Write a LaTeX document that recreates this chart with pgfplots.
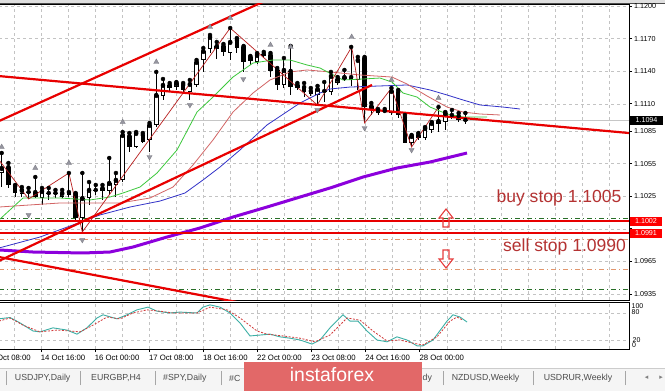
\documentclass[border=0pt]{standalone}
\usepackage{pgfplots}
\pgfplotsset{compat=1.18}
\usepackage{pgfplotstable}
\usepackage{fontspec}
\setmainfont{Liberation Sans}
\newfontfamily\djv{DejaVu Sans}
\definecolor{lips}{RGB}{60,200,60}
\definecolor{teeth}{RGB}{210,100,100}
\definecolor{jaw}{RGB}{50,50,200}
\definecolor{zz}{RGB}{185,30,30}
\definecolor{mapurple}{RGB}{140,0,220}
\definecolor{tl}{RGB}{232,0,0}
\definecolor{gridc}{RGB}{195,195,195}
\definecolor{orng}{RGB}{225,150,110}
\definecolor{dgreen}{RGB}{40,110,40}
\definecolor{stoteal}{RGB}{60,175,165}
\definecolor{stored}{RGB}{210,60,60}
\definecolor{txtred}{RGB}{180,50,50}
\definecolor{logored}{RGB}{226,104,104}
\definecolor{fract}{RGB}{150,150,160}
\definecolor{arrred}{RGB}{230,60,60}

\pgfplotstableread{
i o h l c
0 1.10463 1.10647 1.10334 1.10509
3 1.10270 1.10334 1.10242 1.10307
6 1.10233 1.10325 1.10169 1.10297
9 1.10242 1.10307 1.10233 1.10279
12 1.10049 1.10463 1.09920 1.10233
13 1.10233 1.10380 1.10169 1.10307
16 1.10297 1.10601 1.10261 1.10371
17 1.10353 1.10463 1.10242 1.10399
18 1.10399 1.10840 1.10380 1.10813
20 1.10702 1.10840 1.10693 1.10831
22 1.10767 1.10923 1.10656 1.10905
23 1.10905 1.11393 1.10886 1.11181
24 1.11172 1.11328 1.11135 1.11273
26 1.11254 1.11300 1.11227 1.11291
28 1.11208 1.11319 1.11135 1.11282
29 1.11273 1.11503 1.11254 1.11485
30 1.11503 1.11613 1.11393 1.11586
31 1.11604 1.11733 1.11567 1.11715
34 1.11567 1.11797 1.11503 1.11669
38 1.11485 1.11567 1.11466 1.11549
42 1.11273 1.11521 1.11245 1.11411
44 1.11245 1.11291 1.11227 1.11273
47 1.11181 1.11264 1.11089 1.11236
49 1.11208 1.11393 1.11181 1.11356
50 1.11291 1.11346 1.11273 1.11328
51 1.11328 1.11411 1.11310 1.11346
53 1.11319 1.11531 1.11227 1.11503
58 1.11015 1.11245 1.10997 1.11218
61 1.10739 1.10813 1.10702 1.10804
63 1.10785 1.10886 1.10767 1.10877
64 1.10859 1.10932 1.10831 1.10923
65 1.10914 1.11070 1.10840 1.10942
66 1.10932 1.11024 1.10859 1.11015
}\bull

\pgfplotstableread{
i o h l c
1 1.10518 1.10555 1.10325 1.10353
2 1.10343 1.10353 1.10242 1.10279
4 1.10288 1.10325 1.10224 1.10288
5 1.10288 1.10426 1.10233 1.10242
7 1.10279 1.10325 1.10215 1.10279
8 1.10279 1.10307 1.10233 1.10279
10 1.10288 1.10463 1.10242 1.10261
11 1.10270 1.10279 1.10031 1.10049
14 1.10307 1.10353 1.10261 1.10307
15 1.10325 1.10353 1.10215 1.10297
19 1.10804 1.10831 1.10656 1.10702
21 1.10813 1.10831 1.10739 1.10748
25 1.11273 1.11291 1.11208 1.11245
27 1.11273 1.11291 1.11208 1.11227
32 1.11632 1.11669 1.11512 1.11604
33 1.11632 1.11650 1.11540 1.11577
35 1.11687 1.11705 1.11567 1.11613
36 1.11623 1.11632 1.11393 1.11485
37 1.11531 1.11540 1.11457 1.11494
39 1.11558 1.11577 1.11521 1.11540
40 1.11549 1.11567 1.11346 1.11402
41 1.11411 1.11429 1.11227 1.11273
43 1.11402 1.11632 1.11181 1.11254
45 1.11254 1.11291 1.11162 1.11208
46 1.11218 1.11245 1.11172 1.11190
48 1.11218 1.11300 1.11116 1.11208
52 1.11346 1.11623 1.11264 1.11319
54 1.11521 1.11531 1.10923 1.11070
55 1.11080 1.11107 1.10997 1.11043
56 1.11034 1.11052 1.10997 1.11015
57 1.11034 1.11052 1.11015 1.11034
59 1.11208 1.11227 1.10969 1.10997
60 1.10978 1.10997 1.10739 1.10739
62 1.10813 1.10831 1.10767 1.10785
67 1.10997 1.11043 1.10960 1.10997
68 1.10988 1.11015 1.10932 1.10951
69 1.10951 1.11015 1.10914 1.10942
}\bear

\begin{document}
\begin{tikzpicture}[x=1bp,y=1bp]
\fill[white] (0,0) rectangle (665,391);
\fill[gray!25] (0,388) rectangle (665,391);
\draw[gray!60!black, line width=1bp] (0,387.5) -- (665,387.5);

\begin{axis}[at={(-1bp,91bp)}, anchor=south west, width=630bp, height=296bp, scale only axis,
  xmin=-1, xmax=629, ymin=1.092944, ymax=1.120182,
  axis line style={black, line width=0.8bp},
  xtick={14,41.05,...,610}, xticklabels={}, xtick style={draw=none},
  ytick={1.0935,1.0965,1.0995,1.1025,1.1055,1.1085,1.1110,1.1140,1.1170,1.1200},
  yticklabels={1.0935,1.0965,,1.1025,1.1055,1.1085,1.1110,1.1140,1.1170,1.1200},
  ytick pos=right, yticklabel pos=right,
  ytick style={black, line width=0.6bp}, tick align=outside, major tick length=3bp,
  yticklabel style={font=\fontsize{7.2}{8}\selectfont, anchor=west, inner sep=0pt, xshift=2bp},
  grid=major, grid style={line width=0.5bp, color=gridc, dash pattern=on 3bp off 3bp},
]
% dash-dot levels
\addplot[dgreen, line width=0.9bp, dash pattern=on 5bp off 3bp on 1bp off 3bp] coordinates {(-1,1.10042) (629,1.10042)};
\addplot[orng, line width=0.9bp, dash pattern=on 5bp off 3bp on 1bp off 3bp] coordinates {(-1,1.09856) (629,1.09856)};
\addplot[orng, line width=0.9bp, dash pattern=on 5bp off 3bp on 1bp off 3bp] coordinates {(-1,1.09580) (629,1.09580)};
\addplot[dgreen, line width=0.9bp, dash pattern=on 5bp off 3bp on 1bp off 3bp] coordinates {(-1,1.09396) (629,1.09396)};
% current price line
\addplot[gray!45, line width=0.9bp] coordinates {(-1,1.10948) (629,1.10948)};

% candles: wicks
\addplot[only marks, mark=none, forget plot, error bars/.cd, y dir=minus, y explicit, error mark=none,
  error bar style={black, line width=0.9bp}]
  table[x expr=1.7+6.72*\thisrow{i}, y=h, y error minus expr=\thisrow{h}-\thisrow{l}] {\bull};
\addplot[only marks, mark=none, forget plot, error bars/.cd, y dir=minus, y explicit, error mark=none,
  error bar style={black, line width=0.9bp}]
  table[x expr=1.7+6.72*\thisrow{i}, y=h, y error minus expr=\thisrow{h}-\thisrow{l}] {\bear};
% bodies
\addplot[only marks, mark=none, forget plot, error bars/.cd, y dir=minus, y explicit, error mark=none,
  error bar style={black, line width=4.6bp}]
  table[x expr=1.7+6.72*\thisrow{i}, y=c, y error minus expr=\thisrow{c}-\thisrow{o}] {\bull};
\addplot[only marks, mark=none, forget plot, error bars/.cd, y dir=minus, y explicit, error mark=none,
  error bar style={white, line width=2.8bp}]
  table[x expr=1.7+6.72*\thisrow{i}, y expr=\thisrow{c}-0.00008, y error minus expr={max(\thisrow{c}-\thisrow{o}-0.00016,0)}] {\bull};
\addplot[only marks, mark=none, forget plot, error bars/.cd, y dir=minus, y explicit, error mark=none,
  error bar style={black, line width=4.6bp}]
  table[x expr=1.7+6.72*\thisrow{i}, y=o, y error minus expr={max(\thisrow{o}-\thisrow{c},0.00009)}] {\bear};

% moving average 200 (purple)
\addplot[mapurple, line width=3bp] coordinates {(-1,1.09755) (33,1.09736) (83,1.09727) (110,1.09736) (133,1.09782) (167,1.09874) (200,1.09957) (233,1.10058) (267,1.10150) (300,1.10242) (330,1.10325) (363,1.10426) (397,1.10509) (430,1.10564) (467,1.10647)};
% jaw
\addplot[jaw, line width=0.8bp] coordinates {(-1,1.09773) (40,1.09874) (70,1.09975) (100,1.10077) (130,1.10150) (160,1.10205) (185,1.10279) (203,1.10399) (220,1.10518) (240,1.10675) (267,1.10905) (300,1.11107) (320,1.11199) (330,1.11236) (350,1.11254) (380,1.11264) (407,1.11273) (430,1.11227) (447,1.11181) (463,1.11135) (480,1.11089) (503,1.11070) (520,1.11052)};
% teeth
\addplot[teeth, line width=0.8bp] coordinates {(-1,1.10150) (30,1.10169) (60,1.10187) (90,1.10187) (120,1.10187) (150,1.10233) (173,1.10334) (193,1.10537) (213,1.10767) (233,1.11024) (253,1.11199) (270,1.11319) (290,1.11393) (307,1.11411) (330,1.11393) (360,1.11365) (392,1.11346) (407,1.11282) (427,1.11172) (447,1.11070) (463,1.11024) (480,1.11006) (500,1.10997)};
% lips
\addplot[lips, line width=0.8bp] coordinates {(-1,1.10031) (23,1.10233) (60,1.10233) (90,1.10215) (110,1.10242) (123,1.10279) (140,1.10334) (157,1.10463) (177,1.10675) (197,1.11024) (213,1.11162) (233,1.11346) (253,1.11475) (273,1.11503) (290,1.11503) (307,1.11457) (320,1.11429) (343,1.11319) (363,1.11328) (380,1.11337) (392,1.11300) (403,1.11199) (417,1.11162) (430,1.11070) (447,1.11006) (463,1.10978) (487,1.10978)};
% zigzag
\addplot[zz, line width=0.7bp] coordinates {(-1,1.10583) (28.6,1.10224) (68.9,1.10463) (82.3,1.09920) (230.2,1.11797) (317.3,1.11089) (351.7,1.11623) (364.6,1.10923) (391.5,1.11245) (411.6,1.10702) (438.5,1.11070)};

% trend lines
\addplot[tl, line width=2.2bp] coordinates {(-1,1.10941) (290,1.12150)};
\addplot[tl, line width=2.2bp] coordinates {(-1,1.09654) (372,1.11273)};
\addplot[tl, line width=2.2bp] coordinates {(-1,1.11355) (629,1.10831)};
\addplot[tl, line width=2.2bp] coordinates {(-1,1.09690) (240,1.09270)};
\addplot[tl, line width=2.6bp] coordinates {(-1,1.10020) (629,1.10020)};
\addplot[tl, line width=2.6bp] coordinates {(-1,1.09910) (629,1.09910)};

% fractals
\addplot[only marks, mark=triangle*, mark size=3bp, mark options={fill=fract, draw=fract!80!black, line width=0.3bp}] coordinates {(1.7,1.10702) (35.3,1.10509) (68.9,1.10555) (122.7,1.10932) (156.3,1.11485) (210,1.11807) (230.2,1.11889) (270.5,1.11641) (290.7,1.11623) (351.7,1.11715) (391.5,1.11319) (438.5,1.11153)};
\addplot[only marks, mark=triangle*, mark size=3bp, mark options={rotate=180, fill=fract, draw=fract!80!black, line width=0.3bp}] coordinates {(28.6,1.10077) (82.3,1.09847) (149.5,1.10610) (189.9,1.11089) (243.3,1.11328) (317.3,1.11043) (364.6,1.10877) (411.6,1.10675)};
\end{axis}

% stochastic panel
\begin{axis}[at={(-1bp,42bp)}, anchor=south west, width=630bp, height=47bp, scale only axis,
  xmin=-1, xmax=629, ymin=0, ymax=104.4,
  axis line style={black, line width=0.8bp},
  xtick={41.05,95.15,149.25,203.35,257.45,311.55,365.65,419.75},
  xticklabels={},
  minor xtick={14,68.1,122.2,176.3,230.4,284.5,338.6,392.7,446.8,500.9,555,609.1},
  xtick pos=bottom, tick align=outside, major tick length=3bp, minor tick length=0pt,
  xtick style={black, line width=0.6bp},
  ytick={20,80}, yticklabels={}, ytick style={draw=none},
  grid=both, grid style={line width=0.5bp, color=gridc, dash pattern=on 3bp off 3bp},
  minor grid style={line width=0.5bp, color=gridc, dash pattern=on 3bp off 3bp},
]
\addplot[stoteal, line width=0.9bp] coordinates {(-1,67) (10,70) (20,58) (33,40) (40,38) (53,47) (67,42) (77,33) (87,47) (97,69) (103,76) (117,67) (127,76) (137,87) (148,93) (157,84) (170,80) (180,82) (197,80) (203,93) (210,98) (220,93) (230,80) (240,58) (250,29) (260,31) (270,33) (280,27) (290,24) (300,20) (312,11) (320,20) (330,47) (343,76) (350,62) (358,62) (367,40) (377,20) (387,16) (397,27) (407,20) (417,7) (423,7) (433,20) (447,62) (453,76) (460,71) (467,60)};
\addplot[stored, line width=0.8bp, dash pattern=on 2bp off 1.5bp] coordinates {(-1,62) (10,69) (23,53) (40,38) (57,42) (70,40) (80,38) (93,53) (107,71) (120,67) (133,80) (147,87) (160,84) (173,80) (197,80) (210,93) (227,87) (240,69) (257,40) (267,33) (283,29) (300,24) (315,16) (330,31) (347,69) (360,64) (373,40) (387,18) (400,20) (413,13) (423,9) (437,27) (450,62) (457,71) (463,64)};
\end{axis}

% time labels
\begin{scope}[every node/.style={anchor=west, font=\fontsize{7.8}{9}\selectfont, inner sep=0pt}]
\node at (-13.9,33) {13 Oct 08:00};
\node at (40.6,33) {14 Oct 16:00};
\node at (94.7,33) {16 Oct 00:00};
\node at (148.8,33) {17 Oct 08:00};
\node at (202.9,33) {18 Oct 16:00};
\node at (257,33) {22 Oct 00:00};
\node at (311.1,33) {23 Oct 08:00};
\node at (365.2,33) {24 Oct 16:00};
\node at (419.3,33) {28 Oct 00:00};
\end{scope}

% texts in main panel
\node[text=txtred, font=\fontsize{17.6}{20}\selectfont, inner sep=0pt] at (559,193) {buy stop 1.1005};
\node[text=txtred, font=\fontsize{17.6}{20}\selectfont, inner sep=0pt] at (564.5,144) {sell stop 1.0990};
% hollow arrows (chart objects)
\draw[arrred, line width=1.1bp, line join=miter] (443,164) -- (443,173) -- (439,173) -- (446,182) -- (453,173) -- (449,173) -- (449,164) -- cycle;
\draw[arrred, line width=1.1bp, line join=miter] (443,141) -- (443,132) -- (439,132) -- (446,123) -- (453,132) -- (449,132) -- (449,141) -- cycle;

% price boxes
\node[fill=black, text=white, font=\fontsize{7.2}{8}\selectfont, inner sep=0pt, minimum width=33bp, minimum height=9.5bp] at (646.5,270.5) {1.1094};
\node[fill=red, text=white, font=\fontsize{7.2}{8}\selectfont, inner sep=0pt, minimum width=32bp, minimum height=9bp] at (646,169.5) {1.1002};
\node[fill=red, text=white, font=\fontsize{7.2}{8}\selectfont, inner sep=0pt, minimum width=32bp, minimum height=9bp] at (646,158) {1.0991};

% stochastic labels
\node[anchor=west, font=\fontsize{7}{8}\selectfont, inner sep=0pt] at (631.5,84.5) {100};
\node[anchor=west, font=\fontsize{7}{8}\selectfont, inner sep=0pt] at (631.5,78.5) {80};
\node[anchor=west, font=\fontsize{7}{8}\selectfont, inner sep=0pt] at (632.5,51) {20};
\node[anchor=west, font=\fontsize{7}{8}\selectfont, inner sep=0pt] at (632,46) {0};

% tab bar
\fill[gray!8] (0,0) rectangle (665,23);
\draw[gray!40, line width=0.6bp] (0,23) -- (665,23);
\foreach \xx in {6.4,80.6,155,221,443,533,625} {\draw[gray!70, line width=0.7bp] (\xx,6) -- (\xx,20);}
\begin{scope}[every node/.style={font=\fontsize{8.8}{10}\selectfont, text=black!70, inner sep=0pt, anchor=west}]
\node at (14.8,13) {USDJPY,Daily};
\node at (91,13) {EURGBP,H4};
\node at (163,13) {\#SPY,Daily};
\node at (229,13) {\#C};
\node at (422.5,13) {dy};
\node at (451.6,13) {NZDUSD,Weekly};
\node at (543.6,13) {USDRUR,Weekly};
\end{scope}
\node[font=\djv\fontsize{7}{8}\selectfont, text=gray, inner sep=0pt] at (646.6,13) {◂};
\node[font=\djv\fontsize{7}{8}\selectfont, text=gray, inner sep=0pt] at (661,13) {▸};
% logo
\fill[logored] (244,0) rectangle (422,29);
\node[text=white, font=\fontsize{19.5}{22}\selectfont, inner sep=0pt] at (332,16.5) {instaforex};
\pgfresetboundingbox
\useasboundingbox (0,0) rectangle (665,391);
\end{tikzpicture}
\end{document}
